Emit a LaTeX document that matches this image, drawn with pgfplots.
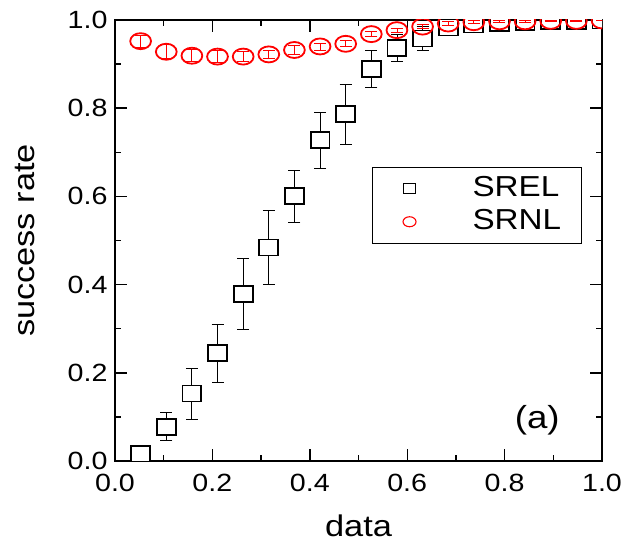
\documentclass[border=0pt]{standalone}
\usepackage{fontspec}
\setmainfont{Liberation Sans}[FakeStretch=1.15]
\usepackage{pgfplots}
\pgfplotsset{compat=1.18}

% success rate of SREL and SRNL, mean and error per data fraction
\pgfplotstableread{
x       y      e
0.0526  0.016  0.020
0.1053  0.078  0.032
0.1579  0.153  0.058
0.2105  0.244  0.066
0.2632  0.379  0.080
0.3158  0.484  0.084
0.3684  0.600  0.060
0.4211  0.727  0.063
0.4737  0.786  0.067
0.5263  0.889  0.041
0.5789  0.937  0.030
0.6316  0.958  0.027
0.6842  0.983  0.012
0.7368  0.990  0.008
0.7895  0.994  0.006
0.8421  0.996  0.005
0.8947  0.997  0.004
0.9474  0.998  0.003
1.0000  0.999  0.002
}\srel

\pgfplotstableread{
x       y      e
0.0526  0.952  0.014
0.1053  0.928  0.016
0.1579  0.919  0.014
0.2105  0.917  0.014
0.2632  0.917  0.012
0.3158  0.922  0.010
0.3684  0.932  0.010
0.4211  0.940  0.008
0.4737  0.946  0.007
0.5263  0.968  0.006
0.5789  0.977  0.005
0.6316  0.985  0.005
0.6842  0.992  0.004
0.7368  0.995  0.003
0.7895  0.997  0.003
0.8421  0.997  0.002
0.8947  0.998  0.002
0.9474  0.998  0.002
1.0000  0.999  0.001
}\srnl

\begin{document}
\begin{tikzpicture}
\path[use as bounding box] (-115bp,-83bp) rectangle (508bp,461bp);
\begin{axis}[
  at={(0bp,0bp)}, anchor=south west,
  width=487bp, height=441bp, scale only axis,
  xmin=0, xmax=1, ymin=0, ymax=1,
  xtick={0,0.2,0.4,0.6,0.8,1.0},
  ytick={0,0.2,0.4,0.6,0.8,1.0},
  minor tick num=1,
  tick align=inside,
  major tick length=12bp, minor tick length=6bp,
  every tick/.style={black, line width=1.4bp},
  axis line style={line width=1.8bp},
  /pgf/number format/assume math mode=true,
  /pgf/number format/.cd, fixed, fixed zerofill, precision=1, /pgfplots/.cd,
  tick label style={font=\fontsize{25}{25}\selectfont},
  xticklabel style={yshift=-10bp},
  yticklabel style={xshift=-4bp},
  xlabel={data}, ylabel={success rate},
  label style={font=\fontsize{30}{30}\selectfont, inner sep=0pt},
  xlabel style={at={(axis description cs:0.5,-0.146)}, anchor=center},
  ylabel style={at={(axis description cs:-0.185,0.5)}, anchor=center},
  clip marker paths=true,
  legend image code/.code={%
    \path[draw=none, fill=none] (-17bp,0bp) -- (63bp,0bp);
    \draw[#1] plot coordinates {(0bp,0bp)};},
  legend style={at={(0.528,0.667)}, anchor=north west, draw=black,
    line width=0.8bp, fill=white, inner xsep=20bp, inner ysep=5bp,
    font=\fontsize{29}{33}\selectfont,
    nodes={inner xsep=0pt, inner ysep=3bp, text height=21bp, text depth=6bp}},
  legend cell align=left,
]
% SREL: hollow squares with error bars
\addplot[only marks, mark=square*, mark size=8bp, forget plot,
  mark options={xscale=1.18, draw=black, fill=white, line width=1.8bp},
  error bars/.cd, y dir=both, y explicit,
  error bar style={black, line width=0.8bp},
  error mark options={rotate=90, mark size=6bp, black, line width=0.8bp}]
  table[x=x, y=y, y error=e] {\srel};
% SRNL: open red circles with error bars
\addplot[only marks, mark=o, mark size=8bp, red, forget plot,
  mark options={xscale=1.3, draw=red, line width=1.8bp},
  error bars/.cd, y dir=both, y explicit,
  error bar style={red, line width=0.8bp},
  error mark options={rotate=90, mark size=6bp, red, line width=0.8bp}]
  table[x=x, y=y, y error=e] {\srnl};
% smaller symbols for the legend
\addlegendimage{only marks, mark=square, black, mark size=5bp,
  mark options={xscale=1.18, line width=1.1bp}}
\addlegendentry{SREL}
\addlegendimage{only marks, mark=o, red, mark size=5bp,
  mark options={xscale=1.3, line width=1.1bp}}
\addlegendentry{SRNL}
\node[font=\fontsize{32}{32}\selectfont] at (rel axis cs:0.867,0.093) {(a)};
\end{axis}
\end{tikzpicture}
\end{document}
